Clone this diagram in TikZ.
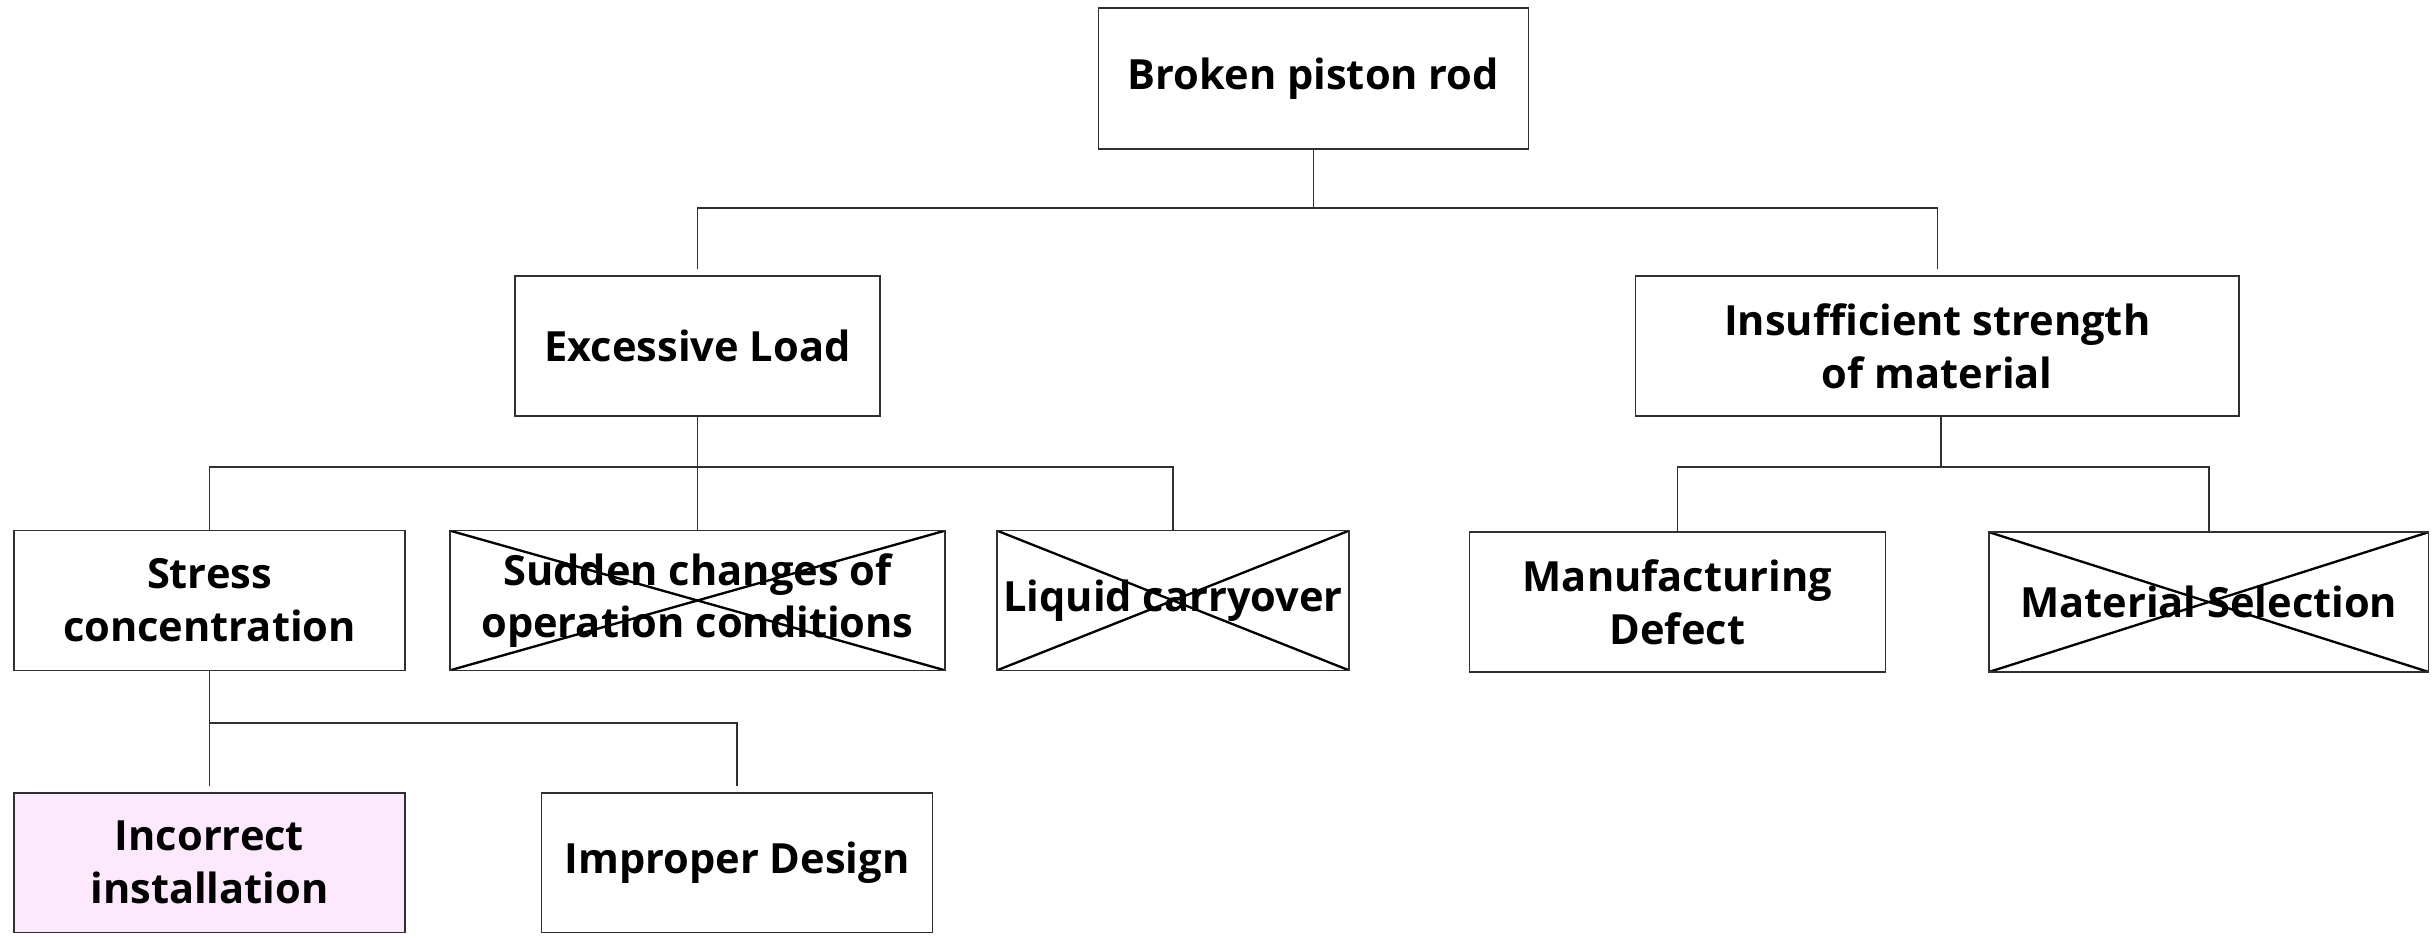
\documentclass[tikz,border=0pt]{standalone}
\usepackage{fontspec}
\setmainfont{Open Sans}
\usepackage{tikz}
\definecolor{wire}{HTML}{303030}
\definecolor{pinkfill}{HTML}{FDE9FD}

\tikzset{
  box/.style={draw=wire, line width=0.5pt, fill=white, align=center,
    inner sep=2pt, font=\fontsize{13.4}{17}\selectfont\bfseries},
  crossed/.style={path picture={
    \draw[black, line width=0.75pt]
      (path picture bounding box.north west) -- (path picture bounding box.south east)
      (path picture bounding box.south west) -- (path picture bounding box.north east);}},
  link/.style={draw=wire, line width=0.45pt}
}

\begin{document}
\begin{tikzpicture}[x=0.5pt, y=-0.5pt]
  \useasboundingbox (0,0) rectangle (1568,604);

  % top event
  \node[box, minimum width=138.5pt, minimum height=45.5pt] (root) at (846.5,50.5) {Broken piston rod};

  % second level
  \node[box, minimum width=117.5pt, minimum height=45pt] (load) at (449.5,223) {Excessive Load};
  \node[box, minimum width=194.5pt, minimum height=45pt] (weak) at (1248.5,223) {Insufficient strength\\ of material};

  % third level
  \node[box, minimum width=126pt, minimum height=45pt] (stress) at (135,387) {Stress\\ concentration};
  \node[box, crossed, minimum width=159.5pt, minimum height=45pt] (sudden) at (449.5,387) {Sudden changes of\\ operation conditions};
  \node[box, crossed, minimum width=113pt, minimum height=45pt] (liquid) at (756,387) {Liquid carryover};
  \node[box, minimum width=134pt, minimum height=45pt] (defect) at (1081,388) {Manufacturing\\ Defect};
  \node[box, crossed, minimum width=141.5pt, minimum height=45pt] (select) at (1423.5,388) {Material Selection};

  % fourth level
  \node[box, fill=pinkfill, minimum width=126pt, minimum height=45pt] (install) at (135,556) {Incorrect\\ installation};
  \node[box, minimum width=126pt, minimum height=45pt] (design) at (475,556) {Improper Design};

  % bus points
  \coordinate (bus1) at (846.5,134);
  \coordinate (bus2) at (449.5,301);
  \coordinate (bus3) at (1251,301);
  \coordinate (bus4) at (135,466);

  % connectors
  \draw[link] (root.south) -- (bus1);
  \draw[link, shorten <=2pt, shorten >=2pt] (load.north) |- (bus1) -| (weak.north);

  \draw[link] (load.south) -- (sudden.north);
  \draw[link] (stress.north) |- (bus2) -| (liquid.north);

  \draw[link] (weak.south -| bus3) -- (bus3);
  \draw[link] (defect.north) |- (bus3) -| (select.north);

  \draw[link, shorten >=2pt] (stress.south) -- (install.north);
  \draw[link, shorten >=2pt] (bus4) -| (design.north);
\end{tikzpicture}
\end{document}
